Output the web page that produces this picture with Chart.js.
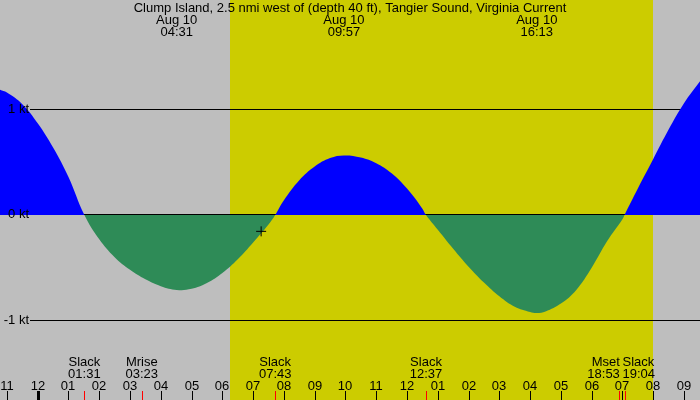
<!DOCTYPE html>
<html><head><meta charset="utf-8">
<script src="https://cdn.jsdelivr.net/npm/chart.js@4/dist/chart.umd.min.js"></script>
<style>html,body{margin:0;padding:0;background:#bebebe;}canvas{display:block;}</style>
</head><body>
<canvas id="c" width="700" height="400" style="width:700px;height:400px"></canvas>
<script>
const titleText = 'Clump Island, 2.5 nmi west of (depth 40 ft), Tangier Sound, Virginia Current';
// current speed (kt) vs hour of Aug 10
const hours = [-1.25,-1.0,-0.5,0,0.5,1.0,1.517,2.0,2.5,3.0,3.5,4.0,4.517,5.0,5.5,6.0,6.5,7.0,7.5,7.717,8.0,8.5,9.0,9.5,9.95,10.5,11.0,11.5,12.0,12.5,12.617,13.0,13.5,14.0,14.5,15.0,15.5,16.0,16.217,16.5,17.0,17.5,18.0,18.5,19.0,19.067,19.5,20.0,20.5,21.0,21.55];
const knots = [1.19,1.16,1.05,0.87,0.64,0.36,0,-0.23,-0.40,-0.52,-0.61,-0.675,-0.71,-0.70,-0.645,-0.55,-0.42,-0.26,-0.09,0,0.14,0.33,0.46,0.54,0.565,0.545,0.49,0.395,0.25,0.06,0,-0.14,-0.32,-0.49,-0.64,-0.77,-0.87,-0.92,-0.93,-0.915,-0.84,-0.71,-0.50,-0.25,-0.04,0,0.25,0.53,0.81,1.06,1.28];
const levelValues = [1, 0, -1];
const levelLabels = ['1 kt', '0 kt', '-1 kt'];
const daylight = [6.25, 20.0];
const peakHours = [4.517, 9.95, 16.217];
const peakDates = ['Aug 10', 'Aug 10', 'Aug 10'];
const peakTimes = ['04:31', '09:57', '16:13'];
const eventHours = [1.517, 3.383, 7.717, 12.617, 18.883, 19.067];
const eventNames = ['Slack', 'Mrise', 'Slack', 'Slack', 'Mset', 'Slack'];
const eventTimes = ['01:31', '03:23', '07:43', '12:37', '18:53', '19:04'];
const eventAlign = ['center', 'center', 'center', 'center', 'right', 'left'];
const tickHours = [-1,0,1,2,3,4,5,6,7,8,9,10,11,12,13,14,15,16,17,18,19,20,21];
const tickLabels = ['11','12','01','02','03','04','05','06','07','08','09','10','11','12','01','02','03','04','05','06','07','08','09'];
const nowHour = [7.26];
const nowKnots = [-0.155];

const FONT = '13px "Liberation Sans", Arial, sans-serif';

const deco = {
  id: 'deco',
  beforeDraw(chart) {
    const ctx = chart.ctx, xs = chart.scales.x;
    ctx.save();
    ctx.fillStyle = '#bebebe';
    ctx.fillRect(0, 0, chart.width, chart.height);
    const x0 = xs.getPixelForValue(daylight[0]), x1 = xs.getPixelForValue(daylight[1]);
    ctx.fillStyle = '#cccc00';
    ctx.fillRect(Math.round(x0), 0, Math.round(x1) - Math.round(x0), chart.height);
    ctx.restore();
  },
  beforeDatasetsDraw(chart) {
    const ctx = chart.ctx, ys = chart.scales.y;
    ctx.save();
    ctx.strokeStyle = '#000';
    ctx.lineWidth = 1;
    levelValues.forEach(v => {
      const y = Math.floor(ys.getPixelForValue(v)) + 0.5;
      ctx.beginPath(); ctx.moveTo(30, y); ctx.lineTo(chart.width, y); ctx.stroke();
    });
    ctx.restore();
  },
  afterDatasetsDraw(chart) {
    const ctx = chart.ctx, xs = chart.scales.x, ys = chart.scales.y;
    ctx.save();
    ctx.fillStyle = '#000';
    ctx.font = FONT;
    ctx.textBaseline = 'middle';
    ctx.textAlign = 'right';
    levelValues.forEach((v, i) => {
      ctx.fillText(levelLabels[i], 29, Math.floor(ys.getPixelForValue(v)) + 0.5);
    });
    ctx.textAlign = 'center';
    ctx.fillText(titleText, 350, 8);
    peakHours.forEach((h, i) => {
      const x = xs.getPixelForValue(h);
      ctx.fillText(peakDates[i], x, 20);
      ctx.fillText(peakTimes[i], x, 32);
    });
    eventHours.forEach((h, i) => {
      let x = xs.getPixelForValue(h);
      ctx.textAlign = eventAlign[i];
      if (eventAlign[i] === 'right') x += 1;
      if (eventAlign[i] === 'left') x -= 2;
      ctx.fillText(eventNames[i], x, 362);
      ctx.fillText(eventTimes[i], x, 374);
    });
    ctx.textAlign = 'center';
    tickHours.forEach((h, i) => {
      const x = Math.round(xs.getPixelForValue(h));
      ctx.fillText(tickLabels[i], x, 386);
      ctx.fillRect(h % 24 === 0 ? x - 1 : x, 391, h % 24 === 0 ? 3 : 1, 9);
    });
    ctx.fillStyle = '#ff0000';
    eventHours.forEach(h => {
      const x = Math.round(xs.getPixelForValue(h));
      ctx.fillRect(x, 391, 1, 9);
    });
    ctx.restore();
  }
};

new Chart(document.getElementById('c'), {
  type: 'line',
  data: {
    datasets: [{
      data: hours.map((h, i) => ({x: h, y: knots[i]})),
      order: 1,
      borderWidth: 0,
      borderColor: 'rgba(0,0,0,0)',
      pointRadius: 0,
      tension: 0.4,
      fill: {target: {value: 0}, above: '#0000ff', below: '#2e8b57'}
    }, {
      type: 'scatter',
      order: 0,
      data: nowHour.map((h, i) => ({x: h, y: nowKnots[i]})),
      pointStyle: 'cross',
      pointRadius: 5,
      borderColor: '#000',
      backgroundColor: '#000',
      borderWidth: 1,
      fill: false
    }]
  },
  options: {
    responsive: false,
    animation: false,
    devicePixelRatio: 1,
    layout: {padding: 0, autoPadding: false},
    plugins: {legend: {display: false}, tooltip: {enabled: false}, title: {display: false}},
    scales: {
      x: {type: 'linear', min: -1.225, max: 21.52, display: false},
      y: {type: 'linear', min: -1.7536, max: 2.0379, display: false}
    }
  },
  plugins: [deco]
});
</script>
</body></html>
